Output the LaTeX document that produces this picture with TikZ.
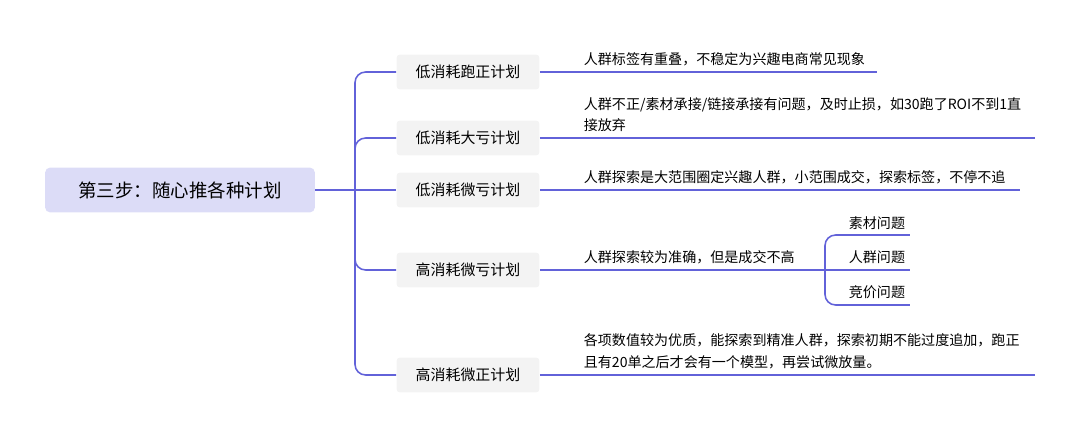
\documentclass[tikz,border=0pt]{standalone}
\usepackage{fontspec}
\setmainfont{Noto Sans CJK SC}
\usetikzlibrary{positioning}
\definecolor{linec}{HTML}{6262D9}
\definecolor{rootfill}{HTML}{DCDCF7}
\definecolor{boxfill}{HTML}{F3F3F3}
\begin{document}
\begin{tikzpicture}[
    x=0.02cm, y=-0.02cm,
    root/.style = {rectangle, fill=rootfill, rounded corners=3pt, minimum width=5.4cm, minimum height=0.9cm, font=\fontsize{10.5pt}{12pt}\selectfont},
    plan/.style = {rectangle, fill=boxfill, rounded corners=2pt, minimum width=2.86cm, minimum height=0.7cm, font=\fontsize{8.5pt}{10pt}\selectfont},
    note/.style = {anchor=south west, align=left, inner sep=2pt, font=\fontsize{8pt}{12.4pt}\selectfont},
    link/.style = {draw=linec, line width=0.9pt},
    curvelink/.style = {link, rounded corners=6pt}
]
\useasboundingbox (0,0) rectangle (1080,439);

% Root
\node[root] (root) at (180,190) {第三步：随心推各种计划};
\coordinate (sp) at (355,190);

% Plans
\node[plan] (p1) at (468,72) {低消耗跑正计划};
\node[plan] (p2) at (468,138) {低消耗大亏计划};
\node[plan] (p3) at (468,190) {低消耗微亏计划};
\node[plan] (p4) at (468,270) {高消耗微亏计划};
\node[plan] (p5) at (468,375) {高消耗微正计划};

% Notes
\coordinate (e1) at (877,72);
\coordinate (e2) at (1035,138);
\coordinate (e3) at (1020,190);
\coordinate (e4) at (825,270);
\coordinate (e5) at (1035,375);
\node[note] (n1) at (580,70) {人群标签有重叠，不稳定为兴趣电商常见现象};
\node[note] (n2) at (580,136) {人群不正/素材承接/链接承接有问题，及时止损，如30跑了ROI不到1直\\接放弃};
\node[note] (n3) at (580,188) {人群探索是大范围圈定兴趣人群，小范围成交，探索标签，不停不追};
\node[note] (n4) at (580,268) {人群探索较为准确，但是成交不高};
\node[note] (n5) at (580,373) {各项数值较为优质，能探索到精准人群，探索初期不能过度追加，跑正\\且有20单之后才会有一个模型，再尝试微放量。};

% Sub issues
\coordinate (s1) at (910,235);
\coordinate (s2) at (910,270);
\coordinate (s3) at (910,305);
\node[note] (q1) at (845,233) {素材问题};
\node[note] (q2) at (845,268) {人群问题};
\node[note] (q3) at (845,303) {竞价问题};

% Connectors
\draw[link] (root.east) -- (sp);
\draw[curvelink] (sp) |- (p1.west);
\draw[curvelink] (sp) |- (p2.west);
\draw[link] (sp) -- (p3.west);
\draw[curvelink] (sp) |- (p4.west);
\draw[curvelink] (sp) |- (p5.west);
\draw[link] (p1.east) -- (e1);
\draw[link] (p2.east) -- (e2);
\draw[link] (p3.east) -- (e3);
\draw[link] (p4.east) -- (e4);
\draw[link] (p5.east) -- (e5);
\draw[curvelink] (e4) |- ([xshift=-0.3cm]s1);
\draw[curvelink] (e4) |- ([xshift=-0.3cm]s3);
\draw[link] (e4) -- (s2);
\draw[link] ([xshift=-0.3cm]s1) -- (s1);
\draw[link] ([xshift=-0.3cm]s3) -- (s3);

\end{tikzpicture}
\end{document}
